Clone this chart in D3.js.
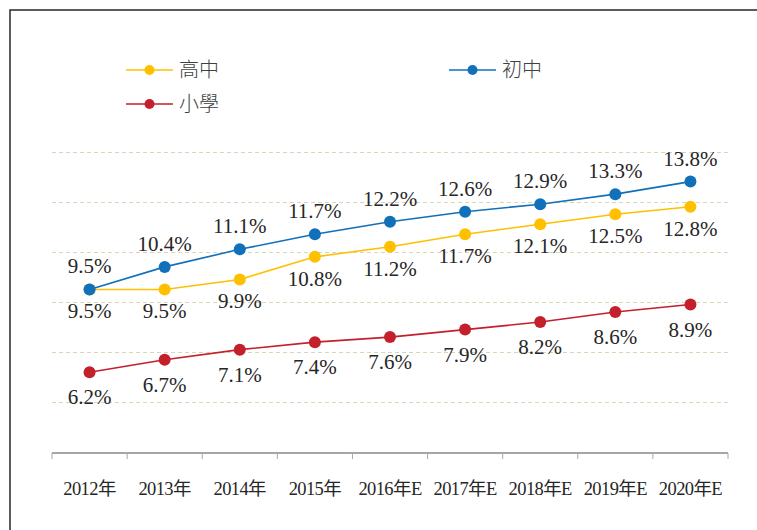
<!DOCTYPE html>
<html>
<head>
<meta charset="utf-8">
<script src="https://cdn.jsdelivr.net/npm/d3@7"></script>
<style>
  body { margin: 0; background: #fff; }
</style>
</head>
<body>
<svg class="chart" width="757" height="530"></svg>
<script>
/* data */
const years = ["2012年", "2013年", "2014年", "2015年", "2016年E", "2017年E", "2018年E", "2019年E", "2020年E"]
const senior = [9.5, 9.5, 9.9, 10.8, 11.2, 11.7, 12.1, 12.5, 12.8]   // 高中
const junior = [9.5, 10.4, 11.1, 11.7, 12.2, 12.6, 12.9, 13.3, 13.8] // 初中
const primary = [6.2, 6.7, 7.1, 7.4, 7.6, 7.9, 8.2, 8.6, 8.9]       // 小學
const gridTicks = [5, 7, 9, 11, 13, 15]

const series = [
    { name: "高中", values: senior, color: "#FFC000", dy: 29 },
    { name: "初中", values: junior, color: "#1170BA", dy: -16 },
    { name: "小學", values: primary, color: "#C3202B", dy: 32 }
]

const serif = "'Liberation Serif', 'Times New Roman', 'Noto Sans CJK TC', serif"

const svg = d3.select("svg.chart")

// frame
svg.append("path")
    .attr("d", "M10,530 V10 H757")
    .attr("fill", "none")
    .attr("stroke", "#262626")
    .attr("stroke-width", 1.5)

const x = d3.scaleBand()
    .domain(years)
    .range([52, 728])

const y = d3.scaleLinear()
    .domain([3, 15])
    .range([452.5, 151.5])

const cx = d => x(d) + x.bandwidth() / 2

// gridlines
svg.append("g")
    .selectAll("line")
    .data(gridTicks)
    .enter()
    .append("line")
    .attr("x1", 52)
    .attr("x2", 728)
    .attr("y1", d => Math.round(y(d)) + 0.5)
    .attr("y2", d => Math.round(y(d)) + 0.5)
    .attr("stroke", "#DAD4B8")
    .attr("stroke-dasharray", "4,3")

// x axis
const xAxis = svg.append("g")
    .attr("transform", "translate(0,453)")

xAxis.append("line")
    .attr("x1", 52).attr("x2", 728)
    .attr("stroke", "#A6A6A6")
    .attr("stroke-width", 2)

xAxis.selectAll("line.tick")
    .data(d3.range(years.length + 1))
    .enter()
    .append("line")
    .attr("class", "tick")
    .attr("x1", i => i < years.length ? x(years[i]) : 728)
    .attr("x2", i => i < years.length ? x(years[i]) : 728)
    .attr("y1", 0)
    .attr("y2", 6)
    .attr("stroke", "#A6A6A6")
    .attr("stroke-width", 1)

xAxis.selectAll("text")
    .data(years)
    .enter()
    .append("text")
    .attr("x", d => cx(d))
    .attr("y", 42)
    .attr("text-anchor", "middle")
    .style("font-family", serif)
    .style("font-size", "18.5px")
    .style("letter-spacing", "-0.6px")
    .attr("fill", "#262626")
    .text(d => d)

// lines + points + labels
const line = d3.line()
    .x((d, i) => cx(years[i]))
    .y(d => y(d))

series.forEach(s => {
    const g = svg.append("g")

    g.append("path")
        .attr("d", line(s.values))
        .attr("fill", "none")
        .attr("stroke", s.color)
        .attr("stroke-width", 1.6)

    g.selectAll("circle")
        .data(s.values)
        .enter()
        .append("circle")
        .attr("cx", (d, i) => cx(years[i]))
        .attr("cy", d => y(d))
        .attr("r", 6)
        .attr("fill", s.color)

    g.selectAll("text")
        .data(s.values)
        .enter()
        .append("text")
        .attr("x", (d, i) => cx(years[i]))
        .attr("y", d => y(d) + s.dy)
        .attr("text-anchor", "middle")
        .style("font-family", serif)
        .style("font-size", "21px")
        .attr("fill", "#262626")
        .text(d => d.toFixed(1) + "%")
})

// legend
const legendPos = [[126, 70], [449, 70], [126, 104]]

const legend = svg.selectAll("g.legend")
    .data(series)
    .enter()
    .append("g")
    .attr("class", "legend")
    .attr("transform", (d, i) => "translate(" + legendPos[i][0] + "," + legendPos[i][1] + ")")

legend.append("line")
    .attr("x1", 0).attr("x2", 47)
    .attr("stroke", d => d.color)
    .attr("stroke-width", 1.6)

legend.append("circle")
    .attr("cx", 23.5)
    .attr("r", 5)
    .attr("fill", d => d.color)

legend.append("text")
    .attr("x", 53)
    .attr("dy", "0.36em")
    .style("font-family", "'Noto Sans CJK TC', sans-serif")
    .style("font-size", "20px")
    .style("font-weight", 300)
    .attr("fill", "#404040")
    .text(d => d.name)
</script>
</body>
</html>
